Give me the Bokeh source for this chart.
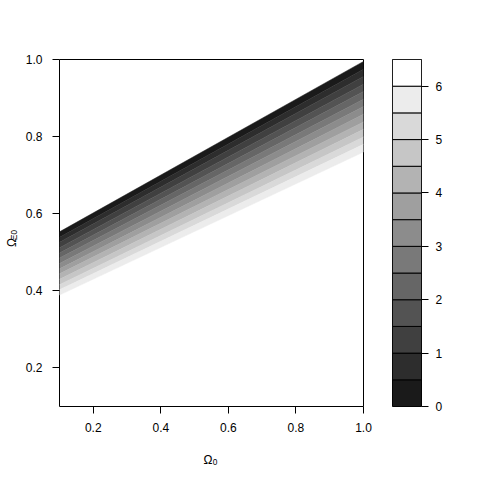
import math
from bokeh.plotting import figure
from bokeh.layouts import row, column
from bokeh.models import Range1d, FixedTicker, PrintfTickFormatter
from bokeh.core.properties import value
from bokeh.embed import file_html
from bokeh.resources import INLINE

# ---- data ----
x_ends = [0.1, 1.0]
levels = [0.0, 0.5, 1.0, 1.5, 2.0, 2.5, 3.0, 3.5, 4.0, 4.5, 5.0, 5.5, 6.0, 6.5]
# y position of each contour level (0, 0.5, ..., 6) at x = 0.1 and at x = 1.0
y_at_x_min = [0.553, 0.539, 0.526, 0.512, 0.498, 0.485, 0.471, 0.457, 0.444, 0.430, 0.416, 0.403, 0.389]
y_at_x_max = [0.995, 0.975, 0.956, 0.936, 0.917, 0.897, 0.878, 0.858, 0.838, 0.819, 0.799, 0.780, 0.760]
grays = ["#1A1A1A", "#2D2D2D", "#404040", "#535353", "#666666", "#797979", "#8C8C8C",
         "#9F9F9F", "#B3B3B3", "#C6C6C6", "#D9D9D9", "#ECECEC", "#FFFFFF"]
x_ticks = [0.2, 0.4, 0.6, 0.8, 1.0]
y_ticks = [0.2, 0.4, 0.6, 0.8, 1.0]
bar_ticks = [0, 1, 2, 3, 4, 5, 6]

FONT = "Liberation Sans"
ROW_H = 444


def style_axis(ax, ticks, standoff, fmt=None):
    ax.ticker = FixedTicker(ticks=ticks)
    if fmt:
        ax.formatter = PrintfTickFormatter(format=fmt)
    ax.axis_line_color = None
    ax.major_tick_out = 7
    ax.major_tick_in = 0
    ax.minor_tick_line_color = None
    ax.major_tick_line_color = "black"
    ax.major_label_text_font = FONT
    ax.major_label_text_font_size = "12px"
    ax.major_label_text_color = "black"
    ax.major_label_standoff = standoff


def blank_fig(w, h):
    f = figure(width=w, height=h, x_range=Range1d(0, w), y_range=Range1d(0, h),
               output_backend="svg", toolbar_location=None,
               x_axis_location=None, y_axis_location=None,
               min_border_left=0, min_border_right=0, min_border_top=0, min_border_bottom=0)
    f.grid.visible = False
    f.outline_line_color = None
    return f


# ---- main panel ----
p = figure(width=353, height=ROW_H, x_range=Range1d(0.1, 1.0), y_range=Range1d(0.1, 1.0),
           output_backend="svg", toolbar_location=None,
           min_border_left=39, min_border_right=10, min_border_top=59, min_border_bottom=38)
p.grid.visible = False
p.outline_line_color = "black"
p.outline_line_width = 1

xs, ys, cols = [], [], []
for i in range(len(y_at_x_min) - 1):
    xs.append([x_ends[0], x_ends[1], x_ends[1], x_ends[0]])
    ys.append([y_at_x_min[i], y_at_x_max[i], y_at_x_max[i + 1], y_at_x_min[i + 1]])
    cols.append(grays[i])
p.patches(xs, ys, fill_color=cols, line_color=cols, line_width=0.5)

style_axis(p.xaxis[0], x_ticks, 9, "%.1f")
style_axis(p.yaxis[0], y_ticks, 10, "%.1f")

# ---- colour key ----
p2 = figure(width=99, height=ROW_H, x_range=Range1d(0, 1), y_range=Range1d(levels[0], levels[-1]),
            output_backend="svg", toolbar_location=None, x_axis_location=None,
            y_axis_location="right",
            min_border_left=19, min_border_right=51, min_border_top=59, min_border_bottom=38)
p2.grid.visible = False
p2.outline_line_color = "black"
p2.quad(left=0, right=1, bottom=levels[:-1], top=levels[1:], fill_color=grays,
        line_color="black", line_width=1)
style_axis(p2.yaxis[0], bar_ticks, 7)

# ---- axis titles ----
ylab = blank_fig(20, ROW_H)
ylab.text(x=[11], y=[ROW_H - 240], text=["Ω"], angle=math.pi / 2,
          text_font=value(FONT), text_font_size="12px", text_align="left",
          text_baseline="alphabetic", text_color="black")
ylab.text(x=[13], y=[ROW_H - 231], text=["Ξ0"], angle=math.pi / 2,
          text_font=value(FONT), text_font_size="8.4px", text_align="left",
          text_baseline="alphabetic", text_color="black")

XL_H = 32
xlab = blank_fig(472, XL_H)
xlab.text(x=[203], y=[ROW_H + XL_H - 459], text=["Ω"],
          text_font=value(FONT), text_font_size="12px", text_align="left",
          text_baseline="alphabetic", text_color="black")
xlab.text(x=[212.2], y=[ROW_H + XL_H - 461], text=["0"],
          text_font=value(FONT), text_font_size="8.4px", text_align="left",
          text_baseline="alphabetic", text_color="black")

layout = column(row(ylab, p, p2), xlab)
open("out.html", "w").write(file_html(layout, INLINE))
